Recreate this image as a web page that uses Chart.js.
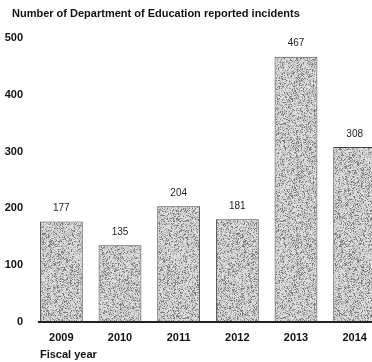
<!DOCTYPE html>
<html>
<head>
<meta charset="utf-8">
<script src="https://cdn.jsdelivr.net/npm/chart.js@4/dist/chart.umd.min.js"></script>
<style>
  html, body { margin: 0; padding: 0; background: #fff; }
  #wrap { width: 372px; height: 362px; overflow: hidden; position: relative; }
  canvas { display: block; }
</style>
</head>
<body>
<div id="wrap"><canvas id="c" width="384" height="362"></canvas></div>
<script>
const chartTitle = 'Number of Department of Education reported incidents';
const xAxisTitle = 'Fiscal year';
const categories = ['2009', '2010', '2011', '2012', '2013', '2014'];
const incidents = [177, 135, 204, 181, 467, 308];
const yTicks = [0, 100, 200, 300, 400, 500];

// deterministic stipple texture (hash-based, no randomness)
function hash2(x, y) {
  let h = (Math.imul(x, 73856093) ^ Math.imul(y, 19349663)) >>> 0;
  h ^= h >>> 16; h = Math.imul(h, 0x85ebca6b);
  h ^= h >>> 13; h = Math.imul(h, 0xc2b2ae35);
  h ^= h >>> 16;
  return (h >>> 0) / 4294967296;
}
function makeStipple() {
  const c = document.createElement('canvas');
  c.width = 97; c.height = 97;
  const g = c.getContext('2d');
  const img = g.createImageData(97, 97);
  for (let y = 0; y < 97; y++) {
    for (let x = 0; x < 97; x++) {
      const t = hash2(x + 11, y + 7);
      const v = t < 0.18 ? 125 : (t < 0.5 ? 182 : 220);
      const i = (y * 97 + x) * 4;
      img.data[i] = v; img.data[i + 1] = v; img.data[i + 2] = v; img.data[i + 3] = 255;
    }
  }
  g.putImageData(img, 0, 0);
  return c;
}
const ctx = document.getElementById('c').getContext('2d');
const stipple = ctx.createPattern(makeStipple(), 'repeat');

const FONT = '"Liberation Sans", Arial, sans-serif';

const extras = {
  id: 'extras',
  afterDatasetsDraw(chart) {
    const c = chart.ctx;
    const meta = chart.getDatasetMeta(0);
    const ys = chart.scales.y;
    const y0 = ys.getPixelForValue(0);
    const first = meta.data[0];
    const left = first.x - first.width / 2;
    c.save();
    // title
    c.fillStyle = '#111';
    c.font = 'bold 11px ' + FONT;
    c.textAlign = 'left';
    c.textBaseline = 'middle';
    c.fillText(chartTitle, 12, 14);
    // zero line
    c.strokeStyle = '#222';
    c.lineWidth = 2;
    c.beginPath();
    c.moveTo(left - 2, y0);
    c.lineTo(chart.width, y0);
    c.stroke();
    // value labels
    c.fillStyle = '#222';
    c.font = '10px ' + FONT;
    c.textAlign = 'center';
    meta.data.forEach((bar, i) => {
      c.fillText(String(incidents[i]), bar.x, bar.y - 13);
    });
    // axis title
    c.font = 'bold 11px ' + FONT;
    c.textAlign = 'left';
    c.fillStyle = '#111';
    c.fillText(xAxisTitle, left, 355);
    c.restore();
  }
};

new Chart(ctx, {
  type: 'bar',
  data: {
    labels: categories,
    datasets: [{
      data: incidents,
      backgroundColor: stipple,
      borderColor: '#444',
      borderWidth: 1,
      barPercentage: 0.73,
      categoryPercentage: 1.0
    }]
  },
  options: {
    responsive: false,
    animation: false,
    devicePixelRatio: 1,
    layout: { padding: { left: 0, right: 0, top: 38, bottom: 0 } },
    plugins: {
      legend: { display: false },
      tooltip: { enabled: false },
      title: { display: false }
    },
    scales: {
      x: {
        grid: { display: false },
        border: { display: false },
        ticks: { color: '#111', font: { family: FONT, size: 11, weight: 'bold' }, padding: 1, maxRotation: 0 },
        afterFit(s) { s.height = 40; }
      },
      y: {
        min: 0, max: 500,
        afterBuildTicks(s) { s.ticks = yTicks.map(v => ({ value: v })); },
        grid: { display: false },
        border: { display: false },
        ticks: { color: '#111', font: { family: FONT, size: 11, weight: 'bold' }, padding: 1 },
        afterFit(s) { s.width = 32; }
      }
    }
  },
  plugins: [extras]
});
</script>
</body>
</html>
